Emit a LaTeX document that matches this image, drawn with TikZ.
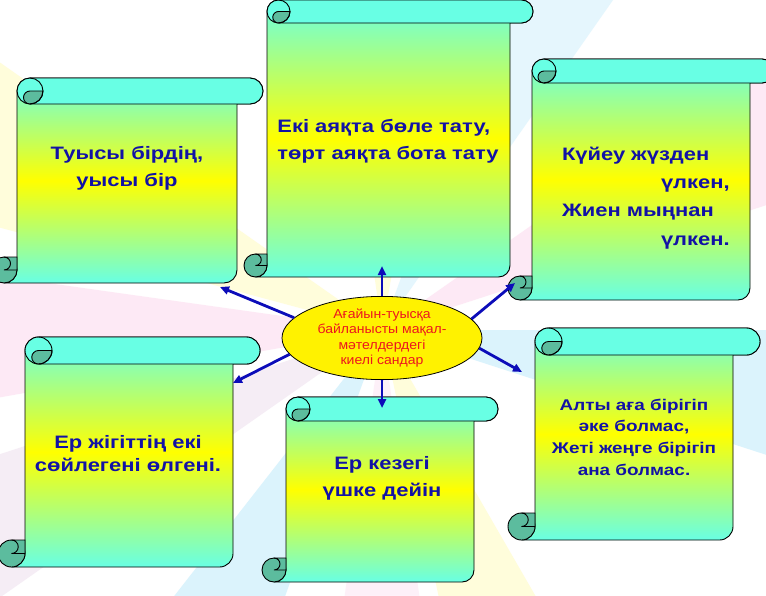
\documentclass[tikz,border=0pt]{standalone}
\usepackage{fontspec}
\setmainfont{Liberation Sans}
\newfontfamily\wideface[FakeStretch=1.22]{Liberation Sans}
\newfontfamily\hubface[FakeStretch=1.08]{Liberation Sans}
\usetikzlibrary{arrows.meta}
\usetikzlibrary{shapes.geometric}
\definecolor{rollcyan}{RGB}{104,255,228}
\definecolor{curlteal}{RGB}{92,188,158}
\definecolor{textblue}{RGB}{18,18,165}
\definecolor{textred}{RGB}{236,22,30}
\definecolor{arrowblue}{RGB}{12,12,185}
\tikzset{
	scrollline/.style={draw=black,line width=0.9pt},
	scrollbody/.style={
		scrollline,
		top color=rollcyan,
		bottom color=rollcyan,
		middle color=yellow,
	},
	roll/.style={scrollline,fill=rollcyan},
	curl/.style={scrollline,fill=curlteal},
	saying/.style={
		text=textblue,
		align=center,
		inner sep=0pt,
		font=\wideface\bfseries\fontsize{18}{27}\selectfont,
	},
	hub/.style={
		draw,
		ellipse,
		fill=yellow,
		line width=0.8pt,
		minimum width=200pt,
		minimum height=82pt,
		inner sep=0pt,
		text=textred,
		align=center,
		font=\hubface\fontsize{13}{15.5}\selectfont,
	},
	link/.style={
		draw=arrowblue,
		line width=2.8pt,
		-{Triangle[length=9pt,width=8pt]}
	},
}
% scroll: left, top, width, height, roll size
\newcommand{\scrollpaper}[5]{%
	\begin{scope}[shift={(#1,#2)}]
		\pgfmathsetmacro{\pW}{#3}
		\pgfmathsetmacro{\pH}{#4}
		\pgfmathsetmacro{\pc}{#5}
		\pgfmathsetmacro{\ph}{#5/2}
		\path[scrollbody] (\pc,\pH-\ph) -- (\pc,\ph) arc[start angle=180,end angle=270,radius=\ph]
			-- (\pW-\ph,0) arc[start angle=270,end angle=450,radius=\ph]
			-- (\pW-\pc,\pc) -- (\pW-\pc,\pH-\ph) arc[start angle=0,end angle=90,radius=\ph]
			-- (\ph,\pH) arc[start angle=90,end angle=0,radius=\ph] -- cycle;
		\path[roll] (\pc+\ph,0) -- (\pW-\ph,0) arc[start angle=270,end angle=450,radius=\ph]
			-- (\pc+\ph,\pc) arc[start angle=90,end angle=270,radius=\ph] -- cycle;
		\path[curl] (\pc+\pc,\ph) arc[start angle=0,end angle=90,radius=\ph]
			arc[start angle=90,end angle=270,radius=\ph/2] -- cycle;
		\draw[scrollline] (\pc+\ph,0) arc[start angle=270,end angle=450,radius=\ph];
		\path[curl] (\ph,\pH-\ph) circle[radius=\ph];
		\path[curl] (\ph,\pH-\pc) -- (\pc,\pH-\pc) -- (\pc,\pH-\ph) -- (\ph,\pH-\ph)
			arc[start angle=90,end angle=-90,radius=\ph/2] -- cycle;
	\end{scope}
}

\begin{document}
\begin{tikzpicture}[x=1pt,y=-1pt]
	\useasboundingbox (0,0) rectangle (766,595);

	% background rays
	\begin{scope}
		\clip (0,0) rectangle (766,595);
		\fill[white] (0,0) rectangle (766,595);
		\foreach \a/\b/\col in {
			195/215/yellow, 170/188/magenta!60, 145/162/violet!50,
			110/128/cyan, 60/78/yellow, 82/98/magenta!40,
			0/18/cyan, 325/342/magenta!60, 262/280/yellow, 290/305/cyan!70}
			\fill[\col,opacity=0.14] (382,330) -- +(\a:900) -- +(\b:900) -- cycle;
	\end{scope}

	\scrollpaper{-9}{78}{272}{205}{26}
	\scrollpaper{244}{0}{289}{277}{23}
	\scrollpaper{508}{59}{266}{241}{24}
	\scrollpaper{-2}{337}{262}{230}{27}
	\scrollpaper{262}{397}{236}{185}{24}
	\scrollpaper{508}{328}{252}{212}{27}

	\node[saying] (kin) at (127,168) {Туысы бірдің,\\уысы бір};
	\node[saying,align=left] (feet) at (388,141)
		{Екі аяқта бөле тату,\\төрт аяқта бота тату};
	\node[saying,align=left,text width=172pt,font=\wideface\bfseries\fontsize{18}{28.3}\selectfont] (groom) at (648,198)
		{Күйеу жүзден\\\hspace*{99pt}үлкен,\\Жиен мыңнан\\\hspace*{99pt}үлкен.};
	\node[saying,font=\wideface\bfseries\fontsize{18}{23}\selectfont] (hero) at (128,454)
		{Ер жігіттің екі\\сөйлегені өлгені.};
	\node[saying] (three) at (382,478) {Ер кезегі\\үшке дейін};
	\node[saying,font=\wideface\bfseries\fontsize{15.5}{21.7}\selectfont] (six) at (634,437)
		{Алты аға бірігіп\\әке болмас,\\Жеті жеңге бірігіп\\ана болмас.};

	\node[hub] (hub) at (382,338)
		{Ағайын-туысқа\\байланысты мақал-\\мәтелдердегі\\киелі сандар};

	\coordinate (tipul) at (220,287);
	\coordinate (tipup) at (382,266);
	\coordinate (tipur) at (515,283);
	\coordinate (tipll) at (233,383);
	\coordinate (tipdn) at (382,408);
	\coordinate (tiplr) at (522,372);

	\draw[link] (hub.167) -- (tipul);
	\draw[link] (hub.north) -- (tipup);
	\draw[link] (hub.12) -- (tipur);
	\draw[link] (hub.190) -- (tipll);
	\draw[link] (hub.south) -- (tipdn);
	\draw[link] (hub.354) -- (tiplr);

\end{tikzpicture}
\end{document}
